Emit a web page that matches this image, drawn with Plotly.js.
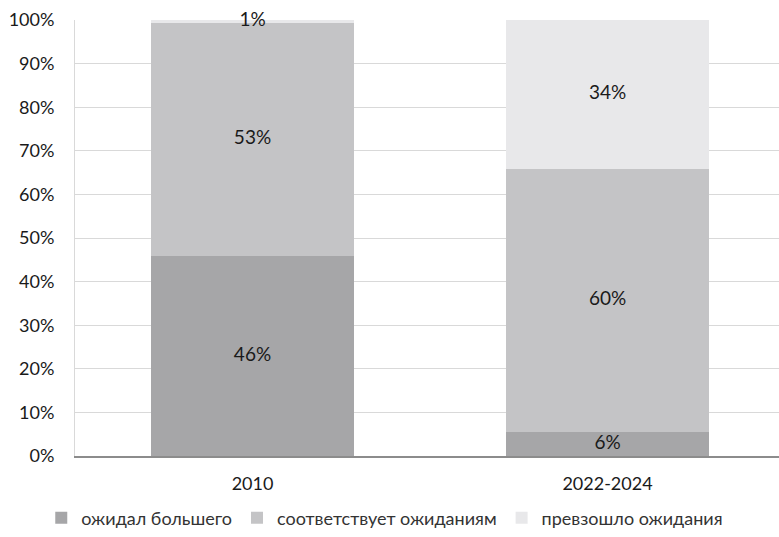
<!DOCTYPE html>
<html><head><meta charset="utf-8">
<script src="https://cdn.plot.ly/plotly-3.0.1.min.js"></script>
<style>html,body{margin:0;padding:0;background:#fff}#c{width:779px;height:537px}</style>
</head><body><div id="c"></div>
<script>
const categories = ["2010", "2022-2024"];
const seriesNames = ["ожидал большего", "соответствует ожиданиям", "превзошло ожидания"];
const expectedMore = [45.9, 5.5];
const meetsExpect = [53.4, 60.3];
const exceeded = [0.7, 34.2];
const labelsExpectedMore = ["46%", "6%"];
const labelsMeets = ["53%", "60%"];
const labelsExceeded = ["1%", "34%"];
const tickVals = [0,10,20,30,40,50,60,70,80,90,100];
const tickText = ["0%","10%","20%","30%","40%","50%","60%","70%","80%","90%","100%"];

const colors = ["#a6a6a8", "#c4c4c6", "#e8e8ea"];
const series = [expectedMore, meetsExpect, exceeded];
const labels = [labelsExpectedMore, labelsMeets, labelsExceeded];
const font = "Lato, 'Open Sans', sans-serif";

const traces = series.map((s, i) => ({
  type: "bar", x: categories, y: s, name: seriesNames[i],
  marker: {color: colors[i], line: {width: 0}}, hoverinfo: "none"
}));
series.forEach((s, i) => {
  const mids = s.map((v, k) => {
    let base = 0; for (let j = 0; j < i; j++) base += series[j][k];
    return base + v / 2;
  });
  traces.push({type: "scatter", mode: "text", x: categories, y: mids, text: labels[i],
    textfont: {family: font, size: 19, color: "#1a1a1a"}, showlegend: false, hoverinfo: "none",
    cliponaxis: false});
});

Plotly.newPlot("c", traces, {
  width: 779, height: 537, barmode: "stack", bargap: 0.43,
  margin: {l: 75, r: 0, t: 20, b: 81},
  paper_bgcolor: "#fff", plot_bgcolor: "#fff",
  font: {family: font, size: 18, color: "#1a1a1a"},
  xaxis: {type: "category", range: [-0.5, 1.483], showgrid: false, showline: true, linecolor: "#8c8c8c", linewidth: 2,
          ticks: "", tickfont: {size: 18}, ticklabelstandoff: 10, fixedrange: true},
  yaxis: {range: [0, 100], tickvals: tickVals, ticktext: tickText, showgrid: true, gridcolor: "#d9d9d9",
          gridwidth: 1, showline: true, linecolor: "#d9d9d9", linewidth: 1, zeroline: false, ticks: "",
          ticklabelstandoff: 16, tickfont: {size: 18}, fixedrange: true},
  legend: {orientation: "h", x: 0.44, xanchor: "center", y: -0.185, yanchor: "bottom", traceorder: "normal",
           font: {size: 18, color: "#333"}, itemwidth: 30},
  showlegend: true
}, {displayModeBar: false, staticPlot: true});
</script></body></html>
